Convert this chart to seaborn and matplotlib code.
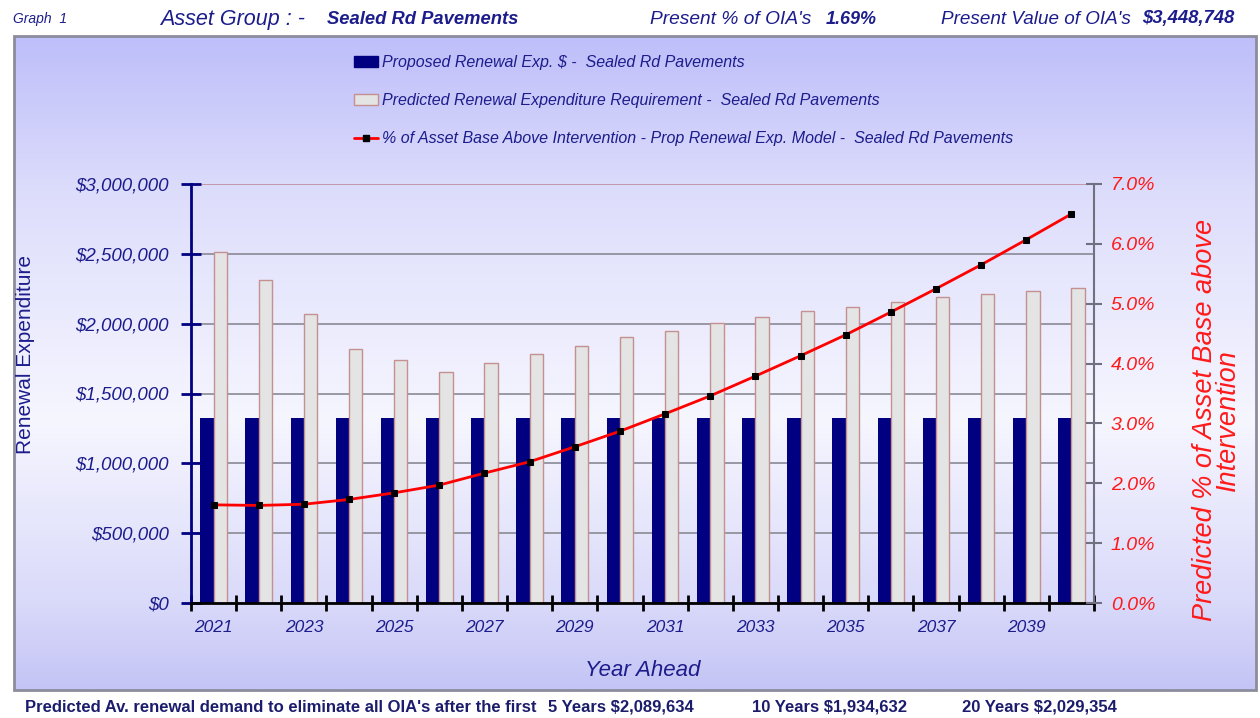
import numpy as np
import pandas as pd
import matplotlib
matplotlib.use("Agg")
import matplotlib.pyplot as plt
import seaborn as sns
from matplotlib.patches import Patch, Rectangle
from matplotlib.lines import Line2D
from matplotlib.ticker import FuncFormatter

# values
years = [2021, 2022, 2023, 2024, 2025, 2026, 2027, 2028, 2029, 2030,
         2031, 2032, 2033, 2034, 2035, 2036, 2037, 2038, 2039, 2040]
proposed = [1327000, 1327000, 1327000, 1327000, 1327000, 1327000, 1327000,
            1327000, 1327000, 1327000, 1327000, 1327000, 1327000, 1327000,
            1327000, 1327000, 1327000, 1327000, 1327000, 1327000]
predicted = [2514000, 2313000, 2069000, 1821000, 1740000, 1656000, 1718000,
             1781000, 1842000, 1907000, 1950000, 2002000, 2046000, 2091000,
             2122000, 2157000, 2189000, 2212000, 2236000, 2258000]
pct_above = [1.64, 1.63, 1.65, 1.73, 1.84, 1.97, 2.17, 2.36, 2.61, 2.87,
             3.16, 3.46, 3.79, 4.13, 4.48, 4.86, 5.25, 5.65, 6.07, 6.50]
year_labels = ["2021", "2023", "2025", "2027", "2029",
               "2031", "2033", "2035", "2037", "2039"]

lbl_prop = "Proposed Renewal Exp. $ -  Sealed Rd Pavements"
lbl_pred = "Predicted Renewal Expenditure Requirement -  Sealed Rd Pavements"
lbl_pct = "% of Asset Base Above Intervention - Prop Renewal Exp. Model -  Sealed Rd Pavements"

NAVY = "#000080"
TXT = "#1c1c8c"
RED = "#ff1a1a"

sns.set_theme(style="white")
plt.rcParams["font.family"] = ["Liberation Sans", "DejaVu Sans"]

fig = plt.figure(figsize=(12.6, 7.18), dpi=100)

# background panel with vertical gradient
bg = fig.add_axes([0, 0, 1, 1], zorder=-5)
bg.set_xlim(0, 1260)
bg.set_ylim(718, 0)
bg.axis("off")
ys = np.arange(36, 691)
stops_y = [36, 200, 420, 600, 690]
stops_c = np.array([[190, 190, 250], [222, 222, 252], [246, 246, 255],
                    [218, 218, 250], [196, 196, 246]]) / 255
grad = np.stack([np.interp(ys, stops_y, stops_c[:, i]) for i in range(3)], axis=1)
bg.imshow(grad[:, None, :], extent=(14, 1256, 690, 36), aspect="auto")
bg.add_patch(Rectangle((14, 36), 1242, 654, fill=False, ec="#8c8c9c", lw=2))

ax = fig.add_axes([191 / 1260, 115 / 718, 903 / 1260, 419 / 718])
ax.set_facecolor("none")

df = pd.DataFrame({
    "Year": [str(y) for y in years] * 2,
    "Value": proposed + predicted,
    "Series": [lbl_prop] * len(years) + [lbl_pred] * len(years),
})
sns.barplot(data=df, x="Year", y="Value", hue="Series",
            palette=[NAVY, "#e4e4e4"], width=0.59, saturation=1,
            ax=ax, legend=False)
for p in ax.patches:
    if p.get_facecolor()[0] > 0.5:
        p.set_edgecolor("#c49090")
        p.set_linewidth(1.0)
    else:
        p.set_linewidth(0)

ax.set_xlim(-0.5, len(years) - 0.5)
ax.set_ylim(0, 3000000)
ax.set_yticks(np.arange(0, 3000001, 500000))
ax.yaxis.set_major_formatter(FuncFormatter(lambda v, _: f"${v:,.0f}"))
ax.set_axisbelow(True)
ax.yaxis.grid(True, color="#8a8a96", lw=1.2)
ax.xaxis.grid(False)
gl = ax.get_ygridlines()
gl[-1].set_color("#c08c9c")

ax.set_xticks(np.arange(-0.5, len(years), 1))
ax.set_xticklabels([])
ax.set_xticks(np.arange(0, len(years), 2), minor=True)
ax.set_xticklabels(year_labels, minor=True)
ax.tick_params(axis="x", which="major", direction="inout", length=11, width=2,
               color="black", bottom=True)
ax.tick_params(axis="x", which="minor", length=0, pad=12, labelsize=12.5,
               labelcolor=TXT)
for t in ax.get_xticklabels(minor=True):
    t.set_fontstyle("italic")
ax.tick_params(axis="y", direction="inout", length=14, width=2, color=NAVY,
               left=True, pad=9, labelsize=13.5, labelcolor=TXT)
for t in ax.get_yticklabels():
    t.set_fontstyle("italic")

for s in ["top", "right"]:
    ax.spines[s].set_visible(False)
ax.spines["left"].set_color(NAVY)
ax.spines["left"].set_linewidth(2)
ax.spines["bottom"].set_color("black")
ax.spines["bottom"].set_linewidth(2)

ax.set_xlabel("Year Ahead", fontsize=16, style="italic", color=TXT, labelpad=18)
ax.set_ylabel("Renewal Expenditure", fontsize=15, color=TXT)
ax.yaxis.set_label_coords(-0.173, 0.592)

# right axis: percentage line
ax2 = ax.twinx()
sns.lineplot(x=np.arange(len(years)), y=pct_above, ax=ax2, color="#ff0000",
             lw=2, marker="s", markersize=5, markerfacecolor="black",
             markeredgecolor="black")
ax2.set_ylim(0, 7)
ax2.set_yticks(np.arange(0, 7.1, 1))
ax2.yaxis.set_major_formatter(FuncFormatter(lambda v, _: f"{v:.1f}%"))
ax2.tick_params(axis="y", direction="inout", length=12, width=1.5,
                color="#707080", right=True, pad=6, labelsize=14, labelcolor=RED)
for t in ax2.get_yticklabels():
    t.set_fontstyle("italic")
for s in ["top", "left", "bottom"]:
    ax2.spines[s].set_visible(False)
ax2.spines["right"].set_color("#707080")
ax2.spines["right"].set_linewidth(1.5)
ax2.grid(False)
ax2.set_ylabel("Predicted % of Asset Base above\nIntervention", fontsize=19.5,
               style="italic", color=RED, rotation=90, linespacing=0.85)
ax2.yaxis.set_label_coords(1.108, 0.437)

handles = [
    Patch(fc=NAVY, ec=NAVY),
    Patch(fc="#e4e4e4", ec="#c49090"),
    Line2D([], [], color="#ff0000", lw=2, marker="s", markersize=4,
           markerfacecolor="black", markeredgecolor="black"),
]
fig.legend(handles, [lbl_prop, lbl_pred, lbl_pct], loc="upper left",
           bbox_to_anchor=(346 / 1260, 1 - 47 / 718), frameon=False,
           borderpad=0, labelspacing=1.45, handlelength=1.5, handleheight=0.7,
           handletextpad=0.25,
           prop={"style": "italic", "size": 11.5}, labelcolor=TXT)

# header
hy = 1 - 19 / 718
fig.text(13 / 1260, hy, "Graph  1", fontsize=10, style="italic",
         color=TXT, va="center")
fig.text(160 / 1260, hy, "Asset Group : -", fontsize=15.5,
         style="italic", color=TXT, va="center")
fig.text(327 / 1260, hy, "Sealed Rd Pavements", fontsize=13.2,
         style="italic", weight="bold", color=TXT, va="center")
fig.text(650 / 1260, hy, "Present % of OIA's", fontsize=13.8,
         style="italic", color=TXT, va="center")
fig.text(826 / 1260, hy, "1.69%", fontsize=13, style="italic",
         weight="bold", color=TXT, va="center")
fig.text(941 / 1260, hy, "Present Value of OIA's", fontsize=13.6,
         style="italic", color=TXT, va="center")
fig.text(1142 / 1260, hy, "$3,448,748", fontsize=13.3, style="italic",
         weight="bold", color=TXT, va="center")

# footer
foot = dict(fontsize=12, weight="bold", color="#1c1c6c", va="center",
            family=["Liberation Sans Narrow", "Liberation Sans", "DejaVu Sans"])
fig.text(25 / 1260, 1 - 707 / 718,
         "Predicted Av. renewal demand to eliminate all OIA's after the first", **foot)
fig.text(548 / 1260, 1 - 707 / 718, "5 Years $2,089,634", **foot)
fig.text(752 / 1260, 1 - 707 / 718, "10 Years $1,934,632", **foot)
fig.text(962 / 1260, 1 - 707 / 718, "20 Years $2,029,354", **foot)

fig.savefig("out.png", dpi=100)
